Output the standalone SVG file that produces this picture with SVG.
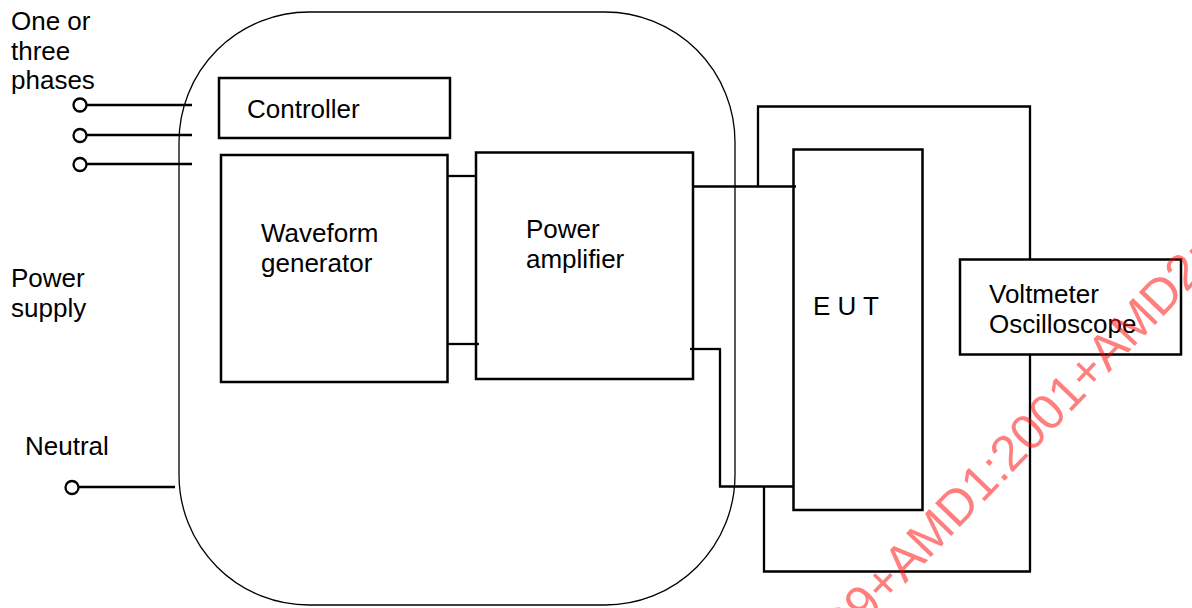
<svg xmlns="http://www.w3.org/2000/svg" width="1192" height="608" viewBox="0 0 1192 608">
<style>
  text { font-family: "Liberation Sans", Arial, sans-serif; font-size: 26px; fill: #000; }
  .box { fill: none; stroke: #000; stroke-width: 2.5; }
  .wire { fill: none; stroke: #000; stroke-width: 2.3; }
  .term { fill: #fff; stroke: #000; stroke-width: 2.3; }
  .wm { font-size: 50px; fill: #ff0000; fill-opacity: 0.5; }
</style>
<rect width="1192" height="608" fill="#fff"/>
<g id="generator-housing">
  <rect x="179" y="12" width="556" height="593" rx="130" ry="130" fill="none" stroke="#000" stroke-width="1.3"/>
</g>
<g id="connectors">
  <line class="wire" x1="86" y1="105" x2="192" y2="105"/>
  <line class="wire" x1="86" y1="135" x2="192" y2="135"/>
  <line class="wire" x1="86" y1="164" x2="192" y2="164"/>
  <line class="wire" x1="78" y1="487" x2="175" y2="487"/>
  <line class="wire" x1="448" y1="176" x2="476" y2="176"/>
  <line class="wire" x1="448" y1="344" x2="479" y2="344"/>
  <polyline class="wire" points="693,186.5 796,186.5"/>
  <polyline class="wire" points="758,186.5 758,106.5 1030,106.5 1030,259"/>
  <polyline class="wire" points="690,349 721,349"/>
  <polyline class="wire" points="720,349 720,486.5 794,486.5"/>
  <polyline class="wire" points="764,486.5 764,571.5 1031,571.5 1030,571.5 1030,354"/>
</g>
<g id="terminals">
  <circle class="term" cx="80" cy="105" r="6.5"/>
  <circle class="term" cx="80" cy="135.5" r="6.5"/>
  <circle class="term" cx="80" cy="164.5" r="6.5"/>
  <circle class="term" cx="72" cy="487.5" r="6.5"/>
</g>
<g id="label-phases">
  <text x="11" y="30">One or</text>
  <text x="11" y="60">three</text>
  <text x="11" y="89">phases</text>
</g>
<g id="label-power-supply">
  <text x="11" y="287">Power</text>
  <text x="11" y="317">supply</text>
</g>
<g id="label-neutral">
  <text x="25" y="455">Neutral</text>
</g>
<g id="controller">
  <rect class="box" x="219" y="78" width="231" height="60"/>
  <text x="247" y="118">Controller</text>
</g>
<g id="waveform-generator">
  <rect class="box" x="221" y="155" width="226.5" height="227"/>
  <text x="261" y="242">Waveform</text>
  <text x="261" y="272">generator</text>
</g>
<g id="power-amplifier">
  <rect class="box" x="476" y="152.5" width="217" height="226.5"/>
  <text x="526" y="238">Power</text>
  <text x="526" y="268">amplifier</text>
</g>
<g id="eut">
  <rect class="box" x="793.5" y="149.5" width="129" height="360.5"/>
  <text x="813" y="315">E U T</text>
</g>
<g id="voltmeter">
  <rect class="box" x="960" y="259.5" width="221" height="95"/>
  <text x="989" y="303">Voltmeter</text>
  <text x="989" y="333">Oscilloscope</text>
</g>
<text class="wm" transform="translate(846,645) rotate(-46)">99+AMD1:2001+AMD2:</text>
</svg>
